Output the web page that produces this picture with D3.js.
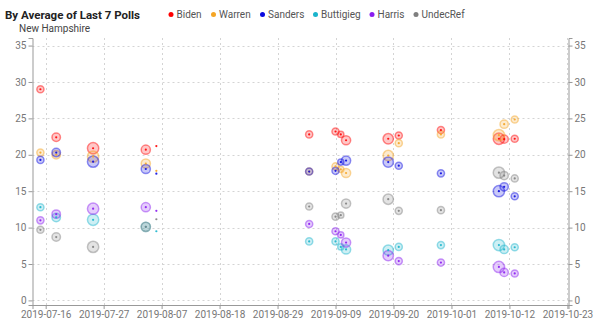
<!DOCTYPE html>
<html>
<head>
<meta charset="utf-8">
<script src="https://cdn.jsdelivr.net/npm/d3@7"></script>
<style>
  body { margin: 0; background: #fff; font-family: Roboto, sans-serif; }
  .axis path, .axis line { stroke: #999; }
  .axis text { fill: #777; font-size: 10px; font-family: Roboto, sans-serif; }
</style>
</head>
<body>
<div id="chart"></div>
<script>
const candidates = ["Biden", "Warren", "Sanders", "Buttigieg", "Harris", "UndecRef"];
const colors = ["#ff0000", "#f5a524", "#0a0ae0", "#1ab4cc", "#8a1cf0", "#7f7f7f"];

const pollDates = ["2019-07-15","2019-07-18","2019-07-25","2019-08-04","2019-08-06","2019-09-04","2019-09-09",
  "2019-09-10","2019-09-11","2019-09-19","2019-09-21","2019-09-29","2019-10-10","2019-10-11","2019-10-13"];
const sampleSizes = [200, 280, 500, 330, 0, 200, 200, 150, 330, 420, 200, 200, 500, 270, 200];

const biden     = [29.0, 22.4, 20.9, 20.7, 21.2, 22.8, 23.2, 22.8, 22.0, 22.2, 22.65, 23.4, 22.2, 22.15, 22.2];
const warren    = [20.3, 20.0, 19.75, 18.8, 17.8, 17.7, 18.4, 18.0, 17.5, 19.9, 21.6, 22.8, 22.7, 24.2, 24.85];
const sanders   = [19.3, 20.3, 19.06, 18.05, 17.4, 17.7, 17.8, 19.0, 19.2, 19.0, 18.5, 17.45, 15.0, 15.6, 14.3];
const buttigieg = [12.8, 11.4, 11.07, 10.1, 9.5, 8.1, 8.1, 7.35, 7.0, 6.9, 7.35, 7.6, 7.6, 7.0, 7.3];
const harris    = [11.0, 11.85, 12.6, 12.8, 12.3, 10.5, 9.5, 9.0, 7.95, 6.15, 5.4, 5.2, 4.6, 3.85, 3.7];
const undecRef  = [9.7, 8.7, 7.35, 10.1, 11.15, 12.9, 11.5, 11.7, 13.3, 13.9, 12.3, 12.4, 17.55, 17.15, 16.75];

const xTicks = ["2019-07-16","2019-07-27","2019-08-07","2019-08-18","2019-08-29","2019-09-09",
  "2019-09-20","2019-10-01","2019-10-12","2019-10-23"];
const yTicks = [0, 5, 10, 15, 20, 25, 30, 35];

const seriesValues = [biden, warren, sanders, buttigieg, harris, undecRef];
const parse = d3.utcParse("%Y-%m-%d");

const width = 600, height = 326;
const svg = d3.select("#chart").append("svg").attr("width", width).attr("height", height);

const x = d3.scaleUtc()
  .domain([new Date(Date.UTC(2019, 6, 13, 12)), new Date(Date.UTC(2019, 9, 23, 5))])
  .range([32.5, 568.5]);
const y = d3.scaleLinear().domain([-0.63, 36.04]).range([305, 38]);
const r = d3.scaleSqrt().domain([0, 600]).range([0, 6.2]);

// grid
svg.append("g").selectAll("line").data(yTicks).enter().append("line")
  .attr("x1", x.range()[0]).attr("x2", x.range()[1])
  .attr("y1", d => Math.round(y(d)) + 0.5).attr("y2", d => Math.round(y(d)) + 0.5)
  .attr("stroke", "#d4d4d4").attr("stroke-dasharray", "2,3");
svg.append("g").selectAll("line").data(xTicks).enter().append("line")
  .attr("x1", d => Math.round(x(parse(d))) + 0.5).attr("x2", d => Math.round(x(parse(d))) + 0.5)
  .attr("y1", y.range()[1]).attr("y2", y.range()[0])
  .attr("stroke", "#d4d4d4").attr("stroke-dasharray", "2,3");

// axes
svg.append("g").attr("class", "axis").attr("transform", `translate(0,${y.range()[0]})`)
  .call(d3.axisBottom(x).tickValues(xTicks.map(parse)).tickFormat(d3.utcFormat("%Y-%m-%d")).tickSizeOuter(0).tickSize(4).tickPadding(2));
svg.append("g").attr("class", "axis").attr("transform", `translate(${x.range()[0]},0)`)
  .call(d3.axisLeft(y).tickValues(yTicks).tickSizeOuter(0).tickSize(4).tickPadding(2));
svg.append("g").attr("class", "axis").attr("transform", `translate(${x.range()[1]},0)`)
  .call(d3.axisRight(y).tickValues(yTicks).tickSizeOuter(0).tickSize(4).tickPadding(2));

// points
const points = [];
seriesValues.forEach((vals, ci) => {
  vals.forEach((v, i) => points.push({ c: ci, date: parse(pollDates[i]), v, n: sampleSizes[i] }));
});

const g = svg.append("g");
g.selectAll(".ring").data(points).enter().append("circle")
  .attr("cx", d => x(d.date)).attr("cy", d => y(d.v)).attr("r", d => r(d.n))
  .attr("fill", d => colors[d.c]).attr("fill-opacity", 0.22)
  .attr("stroke", d => colors[d.c]).attr("stroke-opacity", 0.45).attr("stroke-width", 1.5);
g.selectAll(".dot").data(points).enter().append("circle")
  .attr("cx", d => x(d.date)).attr("cy", d => y(d.v)).attr("r", 1.1)
  .attr("fill", d => colors[d.c]).attr("fill-opacity", 0.9);

// title
svg.append("text").attr("x", 5).attr("y", 19).text("By Average of Last 7 Polls")
  .attr("font-size", 11.5).attr("font-weight", "bold").attr("fill", "#222");
svg.append("text").attr("x", 19).attr("y", 32).text("New Hampshire")
  .attr("font-size", 10).attr("fill", "#444");

// legend
const legendX = [171, 213.5, 262.5, 315.5, 372, 416];
const lg = svg.append("g").selectAll("g").data(candidates).enter().append("g")
  .attr("transform", (d, i) => `translate(${legendX[i]},14.5)`);
lg.append("circle").attr("r", 2.5).attr("fill", (d, i) => colors[i]);
lg.append("text").attr("x", 5.5).attr("y", 3.5).text(d => d).attr("font-size", 10).attr("fill", "#555");
</script>
</body>
</html>
